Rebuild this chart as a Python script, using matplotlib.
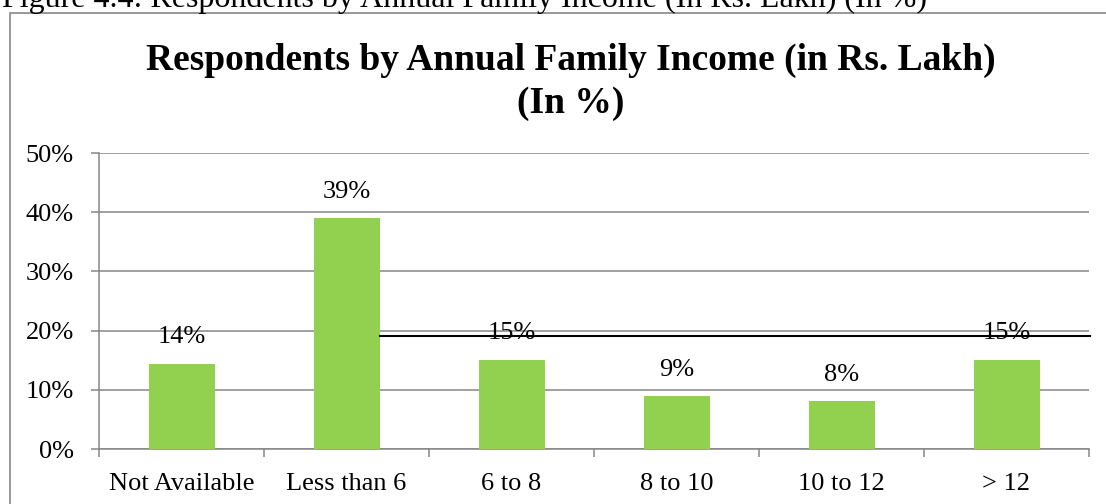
import matplotlib
matplotlib.use("Agg")
import matplotlib.pyplot as plt
from matplotlib.patches import Rectangle

# income brackets (Rs. Lakh) and share of respondents (%)
categories = ["Not Available", "Less than 6", "6 to 8", "8 to 10", "10 to 12", "> 12"]
shares = [14.4, 39.0, 15.1, 8.9, 8.1, 15.1]
y_ticks = [0, 10, 20, 30, 40, 50]

plt.rcParams["font.family"] = ["Liberation Serif", "DejaVu Serif"]
GRID = "#868686"
GREEN = "#92D050"

fig = plt.figure(figsize=(11.06, 5.04), dpi=100)
W, H = 1106, 504

# caption above the chart frame (partly cut by the page)
fig.text(2 / W, 1 - 7 / H, "Figure 4.4: Respondents by Annual Family Income (In Rs. Lakh) (In %)",
         fontsize=23, ha="left", va="baseline")

# chart frame
fig.patches.append(Rectangle((10 / W, -0.1), 1.2, 1.1 - 13 / H, transform=fig.transFigure,
                             fill=False, edgecolor=GRID, linewidth=1.2))

fig.text(0.5 * (142 + 1000) / W, 1 - 70 / H,
         "Respondents by Annual Family Income (in Rs. Lakh)",
         fontsize=27, fontweight="bold", ha="center", va="baseline")
fig.text(0.5 * (142 + 1000) / W, 1 - 113 / H, "(In %)",
         fontsize=27, fontweight="bold", ha="center", va="baseline")

ax = fig.add_axes([99 / W, 1 - 449 / H, (1089 - 99) / W, (449 - 153) / H])
x = list(range(len(categories)))
ax.bar(x, shares, width=0.4, color=GREEN, zorder=3)

for xi, v in zip(x, shares):
    ax.annotate(f"{round(v):d}%", (xi, v), xytext=(0, 11), textcoords="offset points",
                ha="center", va="bottom", fontsize=19, zorder=4)

# stray rule across the plot
ax.plot([1.203, 5.505], [19.15, 19.15], color="black", linewidth=1.5, zorder=5, clip_on=False)

ax.set_xlim(-0.5, 5.5)
ax.set_ylim(0, 50)
ax.set_yticks(y_ticks)
ax.set_yticklabels([f"{t}%" for t in y_ticks])
ax.yaxis.grid(True, color=GRID, linewidth=1.1, zorder=0)
ax.set_axisbelow(True)

ax.set_xticks(x)
ax.set_xticklabels(categories)
ax.set_xticks([i - 0.5 for i in range(len(categories) + 1)], minor=True)
ax.tick_params(axis="x", which="major", length=0, pad=17, labelsize=19)
ax.tick_params(axis="x", which="minor", length=6, width=1.1, color=GRID, direction="out")
ax.tick_params(axis="y", length=6, width=1.1, color=GRID, pad=12, labelsize=19)

for side in ("top", "right"):
    ax.spines[side].set_visible(False)
for side in ("left", "bottom"):
    ax.spines[side].set_color(GRID)
    ax.spines[side].set_linewidth(1.1)

fig.savefig("out.png", dpi=100)
